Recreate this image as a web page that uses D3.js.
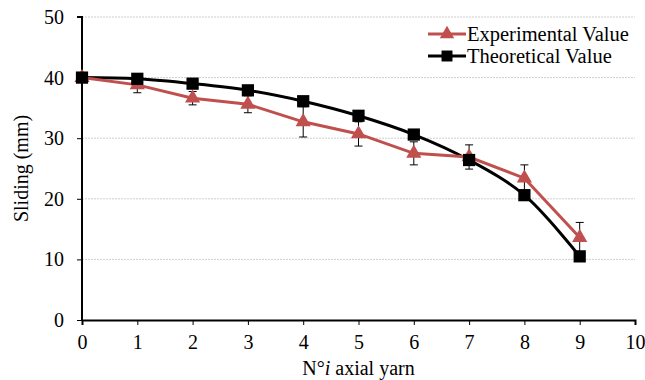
<!DOCTYPE html>
<html>
<head>
<meta charset="utf-8">
<script src="https://cdn.jsdelivr.net/npm/d3@7"></script>
<style>
  body { margin: 0; background: #fff; }
  text { font-family: "Liberation Serif", "Times New Roman", serif; fill: #000; }
</style>
</head>
<body>
<div id="chart"></div>
<script>
// data
const yarns = [0, 1, 2, 3, 4, 5, 6, 7, 8, 9];
const experimental = [40, 38.8, 36.6, 35.6, 32.7, 30.7, 27.5, 26.9, 23.4, 13.6];
const expError = [0, 1.3, 1.1, 1.4, 2.5, 2.0, 1.9, 2.0, 2.2, 2.5];
const theoretical = [40, 39.8, 39.0, 37.9, 36.1, 33.7, 30.6, 26.4, 20.6, 10.5];
const xTicks = [0, 1, 2, 3, 4, 5, 6, 7, 8, 9, 10];
const yTicks = [0, 10, 20, 30, 40, 50];

const width = 645, height = 380;
const margin = { top: 17, right: 10, bottom: 60, left: 82 };
const w = width - margin.left - margin.right;
const h = height - margin.top - margin.bottom;
const red = '#c0504d';
const serif = '"Liberation Serif", "Times New Roman", serif';

const svg = d3.select('#chart').append('svg')
	.attr('width', width)
	.attr('height', height);
const g = svg.append('g')
	.attr('transform', 'translate(' + margin.left + ',' + margin.top + ')');

const x = d3.scaleLinear().domain([0, 10]).range([0, w]);
const y = d3.scaleLinear().domain([0, 50]).range([h, 0]);

// gridlines
g.selectAll('.grid').data(yTicks.filter(d => d > 0)).enter().append('line')
	.attr('x1', 0).attr('x2', w)
	.attr('y1', d => y(d)).attr('y2', d => y(d))
	.attr('stroke', '#cfcfcf').attr('stroke-width', 1)
	.attr('stroke-dasharray', '2,1');

// axes
const xAxis = d3.axisBottom(x).tickValues(xTicks).tickSize(5).tickPadding(10).tickFormat(d3.format('d'));
const yAxis = d3.axisLeft(y).tickValues(yTicks).tickSize(5).tickPadding(13);
const gx = g.append('g').attr('transform', 'translate(0,' + h + ')').call(xAxis);
const gy = g.append('g').call(yAxis);
[gx, gy].forEach(a => {
	a.attr('font-family', serif).attr('font-size', 20);
	a.select('.domain').attr('stroke', '#000').attr('stroke-width', 2);
	a.selectAll('.tick line').attr('stroke', '#000').attr('stroke-width', 1);
	a.selectAll('.tick text').attr('font-family', serif).style('font-size', '20px');
});
gy.select('.domain').attr('d', 'M-5,0H0V' + h);

const expData = yarns.map((d, i) => ({ x: d, y: experimental[i], e: expError[i] }));
const theoData = yarns.map((d, i) => ({ x: d, y: theoretical[i] }));

// theoretical line
g.append('path').datum(theoData)
	.attr('fill', 'none').attr('stroke', '#000').attr('stroke-width', 3)
	.attr('d', d3.line().curve(d3.curveCatmullRom.alpha(0.5)).x(d => x(d.x)).y(d => y(d.y)));

// experimental line
g.append('path').datum(expData)
	.attr('fill', 'none').attr('stroke', red).attr('stroke-width', 3)
	.attr('d', d3.line().x(d => x(d.x)).y(d => y(d.y)));

// error bars
const eb = g.selectAll('.err').data(expData.filter(d => d.e > 0)).enter().append('g');
eb.append('line')
	.attr('x1', d => x(d.x)).attr('x2', d => x(d.x))
	.attr('y1', d => y(d.y - d.e)).attr('y2', d => y(d.y + d.e))
	.attr('stroke', '#000').attr('stroke-width', 1);
eb.selectAll('.cap').data(d => [d.y - d.e, d.y + d.e].map(v => ({ x: d.x, v: v }))).enter().append('line')
	.attr('x1', d => x(d.x) - 4).attr('x2', d => x(d.x) + 4)
	.attr('y1', d => y(d.v)).attr('y2', d => y(d.v))
	.attr('stroke', '#000').attr('stroke-width', 1);

// markers
const tri = d3.symbol().type(d3.symbolTriangle).size(100);
const sq = d3.symbol().type(d3.symbolSquare).size(150);
g.selectAll('.tri').data(expData).enter().append('path')
	.attr('d', tri).attr('fill', red)
	.attr('transform', d => 'translate(' + x(d.x) + ',' + y(d.y) + ')');
g.selectAll('.sq').data(theoData).enter().append('path')
	.attr('d', sq).attr('fill', '#000')
	.attr('transform', d => 'translate(' + x(d.x) + ',' + y(d.y) + ')');

// axis titles
svg.append('text')
	.attr('transform', 'translate(28,' + (margin.top + h / 2) + ') rotate(-90)')
	.attr('text-anchor', 'middle')
	.attr('font-family', serif)
	.style('font-size', '20px')
	.text('Sliding (mm)');
const xt = svg.append('text')
	.attr('x', margin.left + w / 2).attr('y', 375)
	.attr('text-anchor', 'middle')
	.attr('font-family', serif)
	.style('font-size', '20px');
xt.append('tspan').text('N°');
xt.append('tspan').style('font-style', 'italic').text('i');
xt.append('tspan').text(' axial yarn');

// legend
const legend = svg.append('g').attr('transform', 'translate(428,34)');
const items = [
	{ label: 'Experimental Value', color: red, sym: d3.symbol().type(d3.symbolTriangle).size(90) },
	{ label: 'Theoretical Value', color: '#000', sym: d3.symbol().type(d3.symbolSquare).size(120) }
];
const li = legend.selectAll('.li').data(items).enter().append('g')
	.attr('transform', (d, i) => 'translate(0,' + i * 22 + ')');
li.append('line').attr('x1', 0).attr('x2', 38).attr('y1', 0).attr('y2', 0)
	.attr('stroke', d => d.color).attr('stroke-width', 3);
li.append('path').attr('d', d => d.sym())
	.attr('fill', d => d.color).attr('transform', 'translate(19,0)');
li.append('text').attr('x', 39).attr('y', 7)
	.attr('font-family', serif)
	.style('font-size', '20.5px')
	.text(d => d.label);
</script>
</body>
</html>
